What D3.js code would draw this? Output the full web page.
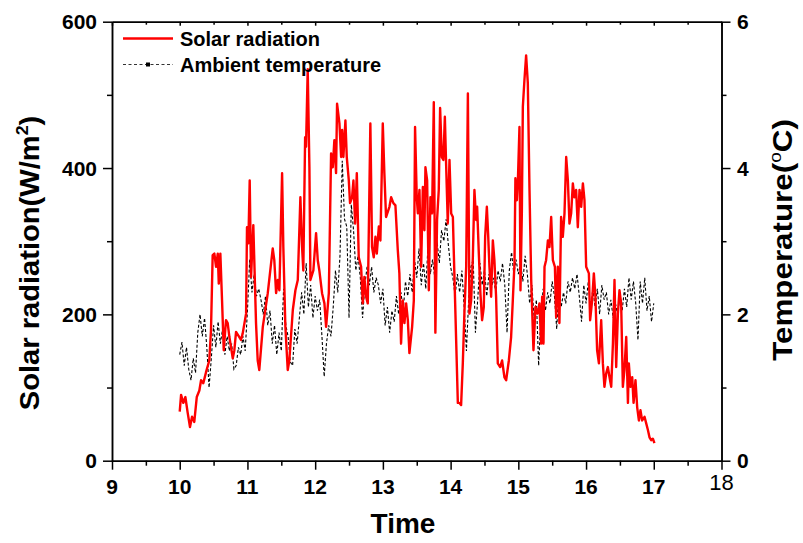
<!DOCTYPE html>
<html>
<head>
<meta charset="utf-8">
<script src="https://cdn.jsdelivr.net/npm/d3@7/dist/d3.min.js"></script>
<style>
  html, body { margin: 0; padding: 0; background: #fff; }
  svg { display: block; }
  text { font-family: "Liberation Sans", Arial, sans-serif; fill: #000; }
</style>
</head>
<body>
<svg id="chart" width="803" height="543"></svg>
<script>
// Time axis ticks (hours of day)
const hourTicks = [9, 10, 11, 12, 13, 14, 15, 16, 17, 18];
const radTicks = [0, 200, 400, 600];
const tempTicks = [0, 2, 4, 6];

// Solar radiation: minutes after 10:00 and W/m²
const solarMinutes = [
  0,1.2,3.2,5.0,7.1,9.1,10.9,12.9,15.1,17.4,18.9,20.9,23.3,26.2,27.7,29.2,30.7,32.2,33.7,34.6,
  36.0,37.5,39.0,41.0,42.5,44.0,47.0,48.4,49.9,52.8,54.3,55.8,58.8,59.6,60.8,62.0,63.2,65.2,67.6,69.1,
  70.5,73.6,78.0,82.4,83.8,85.4,86.9,88.3,90.7,91.8,93.6,95.7,97.1,100.2,102.5,104.6,106.9,108.4,109.5,111.1,
  111.9,113.4,114.9,115.8,118.4,120.8,122.3,123.7,126.1,128.2,129.7,132.1,134.1,135.6,137.0,138.5,139.4,
  141.5,143.0,143.9,145.0,146.8,148.0,149.8,150.9,152.7,153.9,155.4,156.9,158.6,160.7,162.2,163.6,165.1,166.6,168.9,170.4,
  171.9,173.4,174.6,176.4,177.8,179.9,181.3,182.8,185.8,187.3,189.3,191.1,193.2,194.6,196.1,197.6,199.1,200.6,202.1,203.5,
  205.9,207.4,208.5,210.0,
  211.0,212.4,213.9,215.4,216.8,217.7,219.2,220.7,222.1,223.6,225.1,226.5,228.0,229.5,230.7,232.2,233.6,234.9,236.0,237.5,
  239.0,240.5,242.0,243.4,244.9,246.4,247.8,249.3,250.8,252.2,253.8,255.3,256.7,258.2,259.7,261.1,262.6,263.5,265.0,266.4,
  267.9,269.4,270.6,272.1,273.2,274.4,275.9,277.4,278.8,280.3,281.8,
  283.9,285.6,287.7,289.2,291.6,293.6,295.1,296.6,297.4,298.7,299.6,301.0,301.9,303.1,304.0,305.4,306.9,308.4,309.9,311.4,
  313.4,315.2,317.0,318.7,320.2,321.1,322.3,323.2,324.6,326.2,327.6,329.1,330.6,332.4,333.5,335.0,336.4,337.9,339.4,340.9,
  342.4,343.9,345.3,346.8,348.3,349.7,351.2,352.7,
  354.2,355.7,357.2,358.6,360.1,362.5,363.6,365.4,366.9,368.3,369.8,371.4,373.4,374.9,376.3,377.8,379.3,380.8,382.3,383.8,
  385.2,386.7,388.2,389.6,391.1,392.6,394.0,395.6,397.1,397.9,399.4,400.9,402.1,403.8,405.3,406.8,408.2,409.7,411.8,413.3,
  414.8,416.2,417.7,419.2,420.6
];
const solarRadiation = [
  67,90,79,87,65,46,60,53,87,96,110,106,121,137,178,281,283,265,283,242,
  283,219,151,192,188,169,140,151,176,169,165,174,201,319,297,383,251,322,188,137,
  124,183,229,290,274,229,247,233,393,292,183,124,137,206,233,247,360,292,260,442,
  429,535,401,247,260,311,274,260,229,215,183,229,420,401,438,393,488,
  461,415,452,415,465,415,383,352,360,383,324,393,278,265,215,251,224,215,461,292,
  278,306,283,320,301,461,393,333,347,360,352,349,288,256,160,219,188,215,192,147,
  183,219,456,360,
  338,370,265,374,315,401,383,233,360,338,490,175,329,370,482,415,411,470,406,324,
  411,338,333,251,165,79,79,76,133,201,265,502,201,219,278,370,329,347,283,229,
  192,210,306,347,311,265,224,301,274,224,133,
  128,137,114,110,137,169,219,270,386,356,383,456,233,338,484,520,554,516,370,247,
  151,210,201,215,160,224,160,265,274,301,292,333,274,265,196,265,188,333,306,338,
  415,383,324,338,379,360,370,319,
  370,347,379,356,265,256,192,219,256,224,151,133,192,133,101,119,128,114,101,160,
  247,128,201,233,215,101,124,169,79,133,101,114,79,110,73,55,69,55,60,51,
  42,32,28,30,24
];

// Ambient temperature (°C), logged every 2 minutes from 10:00 to 17:00
const tempIntervalMinutes = 2;
const ambientTemp = [
  1.45,1.62,1.30,1.55,1.25,1.10,1.40,1.20,1.75,2.00,
  1.70,1.95,1.55,1.00,1.40,1.85,1.55,1.90,1.60,1.80,
  1.45,1.70,1.50,1.60,1.25,1.30,1.55,1.45,1.70,1.50,
  2.05,2.75,2.30,2.55,2.25,2.35,2.20,2.00,2.25,1.85,
  2.05,1.60,1.85,1.45,1.75,1.50,2.35,1.85,1.70,1.35,
  1.30,1.80,1.60,1.95,2.30,2.00,2.70,2.10,2.40,1.95,
  2.25,2.05,2.20,1.70,1.15,1.60,1.85,1.70,2.10,2.60,
  2.30,2.80,4.10,3.30,3.20,1.95,3.50,3.15,2.60,2.80,
  2.50,1.95,2.40,2.65,2.40,2.65,2.30,2.50,2.40,2.15,
  2.35,1.85,2.10,1.75,2.05,1.90,2.25,2.00,2.30,2.05,
  2.45,2.25,2.55,2.30,2.75,2.50,2.90,2.40,2.70,2.35,
  2.95,2.55,2.75,2.50,3.00,2.70,3.15,3.00,3.30,2.95,
  2.65,2.50,2.25,2.55,2.30,2.60,2.10,1.50,2.20,2.65,
  2.75,1.75,2.20,2.70,2.40,2.60,2.25,2.55,2.35,2.50,
  2.30,2.60,2.45,2.70,2.40,1.75,2.60,2.85,2.55,2.75,
  2.55,2.70,2.45,2.80,2.55,2.15,2.40,1.95,2.20,1.30,
  2.00,2.35,2.05,2.30,2.15,2.45,2.25,1.80,2.40,2.10,
  2.30,2.15,2.45,2.30,2.50,2.35,2.55,2.25,1.90,2.40,
  2.15,2.45,2.05,2.35,2.10,2.35,2.00,2.40,2.20,2.30,
  2.00,2.20,1.95,2.15,2.00,2.25,2.05,2.35,2.10,2.50,
  2.20,2.45,2.15,1.65,2.45,2.15,2.50,2.05,2.25,1.90,
  2.15
];

const svg = d3.select("#chart");
const W = 803, H = 543;
svg.append("rect").attr("width", W).attr("height", H).attr("fill", "#fff");

const plot = { left: 112, right: 721.5, top: 21.7, bottom: 460.7 };

const x = d3.scaleLinear().domain([9, 18]).range([plot.left, plot.right]);
const yRad = d3.scaleLinear().domain([0, 600]).range([plot.bottom, plot.top]);
const yTemp = d3.scaleLinear().domain([0, 6]).range([plot.bottom, plot.top]);

const solar = solarMinutes.map((m, i) => ({ t: 10 + m / 60, v: solarRadiation[i] }));
const temp = ambientTemp.map((v, i) => ({ t: 10 + (i * tempIntervalMinutes) / 60, v }));

// Series
const tempLine = d3.line().x(d => x(d.t)).y(d => yTemp(d.v));
svg.append("path")
  .datum(temp)
  .attr("d", tempLine)
  .attr("fill", "none")
  .attr("stroke", "#000")
  .attr("stroke-width", 1.1)
  .attr("stroke-dasharray", "3,2");

const solarLine = d3.line().x(d => x(d.t)).y(d => yRad(d.v));
svg.append("path")
  .datum(solar)
  .attr("d", solarLine)
  .attr("fill", "none")
  .attr("stroke", "#ff0000")
  .attr("stroke-width", 2.4)
  .attr("stroke-linejoin", "round");

// Axes
const axisStyle = g => {
  g.selectAll("path.domain").attr("stroke", "#000").attr("stroke-width", 1.5);
  g.selectAll(".tick line").attr("stroke", "#000").attr("stroke-width", 1.5);
  g.selectAll(".tick text").remove();
};

const minorHours = d3.range(9.5, 18, 1);
const minorRad = [100, 300, 500];
const minorTemp = [1, 3, 5];

// bottom
svg.append("g").attr("transform", `translate(0,${plot.bottom})`)
  .call(d3.axisBottom(x).tickValues(hourTicks).tickSize(9).tickSizeOuter(0)).call(axisStyle);
svg.append("g").attr("transform", `translate(0,${plot.bottom})`)
  .call(d3.axisBottom(x).tickValues(minorHours).tickSize(5).tickSizeOuter(0)).call(axisStyle);
// top
svg.append("g").attr("transform", `translate(0,${plot.top})`)
  .call(d3.axisTop(x).tickValues(hourTicks).tickSize(-4).tickSizeOuter(0)).call(axisStyle);
svg.append("g").attr("transform", `translate(0,${plot.top})`)
  .call(d3.axisTop(x).tickValues(minorHours).tickSize(-3).tickSizeOuter(0)).call(axisStyle);
// left
svg.append("g").attr("transform", `translate(${plot.left},0)`)
  .call(d3.axisLeft(yRad).tickValues(radTicks).tickSize(9).tickSizeOuter(0)).call(axisStyle);
svg.append("g").attr("transform", `translate(${plot.left},0)`)
  .call(d3.axisLeft(yRad).tickValues(minorRad).tickSize(5).tickSizeOuter(0)).call(axisStyle);
// right
svg.append("g").attr("transform", `translate(${plot.right},0)`)
  .call(d3.axisRight(yTemp).tickValues(tempTicks).tickSize(9).tickSizeOuter(0)).call(axisStyle);
svg.append("g").attr("transform", `translate(${plot.right},0)`)
  .call(d3.axisRight(yTemp).tickValues(minorTemp).tickSize(5).tickSizeOuter(0)).call(axisStyle);

// Tick labels
svg.append("g").selectAll("text").data(hourTicks).join("text")
  .attr("x", d => x(d))
  .attr("y", d => d === 18 ? 490 : 494)
  .attr("text-anchor", "middle")
  .attr("font-size", d => d === 18 ? 22 : 21)
  .attr("font-weight", d => d === 18 ? "normal" : "bold")
  .text(d => d);

svg.append("g").selectAll("text").data(radTicks).join("text")
  .attr("x", 97)
  .attr("y", d => yRad(d))
  .attr("dy", "0.36em")
  .attr("text-anchor", "end")
  .attr("font-size", 21)
  .attr("font-weight", "bold")
  .text(d => d);

svg.append("g").selectAll("text").data(tempTicks).join("text")
  .attr("x", 737)
  .attr("y", d => yTemp(d))
  .attr("dy", "0.36em")
  .attr("text-anchor", "start")
  .attr("font-size", 21)
  .attr("font-weight", "bold")
  .text(d => d);

// Axis titles
svg.append("text")
  .attr("x", 403).attr("y", 533)
  .attr("text-anchor", "middle")
  .attr("font-size", 28).attr("font-weight", "bold")
  .text("Time");

const leftTitle = svg.append("text")
  .attr("transform", "translate(39,263) rotate(-90) scale(1.04,1)")
  .attr("text-anchor", "middle")
  .attr("font-size", 28).attr("font-weight", "bold");
leftTitle.append("tspan").text("Solar radiation(W/m");
leftTitle.append("tspan").attr("font-size", 17).attr("dy", -11).text("2");
leftTitle.append("tspan").attr("dy", 11).text(")");

const rightTitle = svg.append("text")
  .attr("transform", "translate(792,240) rotate(-90) scale(1.12,1)")
  .attr("text-anchor", "middle")
  .attr("font-size", 28).attr("font-weight", "bold");
rightTitle.append("tspan").text("Temperature(");
rightTitle.append("tspan").attr("font-size", 17).attr("font-weight", "normal").attr("dy", -11).text("o");
rightTitle.append("tspan").attr("dy", 11).text("C)");

// Legend
const legend = svg.append("g");
legend.append("line")
  .attr("x1", 123).attr("x2", 173).attr("y1", 38.5).attr("y2", 38.5)
  .attr("stroke", "#ff0000").attr("stroke-width", 2.4);
legend.append("text")
  .attr("x", 180).attr("y", 38.5).attr("dy", "0.36em")
  .attr("font-size", 20).attr("font-weight", "bold")
  .text("Solar radiation");
legend.append("line")
  .attr("x1", 123).attr("x2", 173).attr("y1", 64.5).attr("y2", 64.5)
  .attr("stroke", "#333").attr("stroke-width", 1)
  .attr("stroke-dasharray", "3,2.5");
legend.append("rect")
  .attr("x", 146).attr("y", 62.5).attr("width", 4).attr("height", 4)
  .attr("fill", "#000");
legend.append("text")
  .attr("x", 180).attr("y", 64.5).attr("dy", "0.36em")
  .attr("font-size", 20).attr("font-weight", "bold")
  .text("Ambient temperature");
</script>
</body>
</html>
